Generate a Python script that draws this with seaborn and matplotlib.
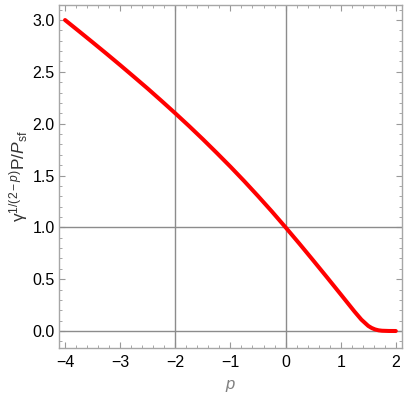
import matplotlib
matplotlib.use("Agg")
import matplotlib.pyplot as plt
import seaborn as sns
import pandas as pd
from matplotlib.ticker import MultipleLocator, FormatStrFormatter, FuncFormatter

# Data
p_values = [-4.0, -3.75, -3.5, -3.25, -3.0, -2.75, -2.5, -2.25, -2.0, -1.75,
            -1.5, -1.25, -1.0, -0.75, -0.5, -0.25, 0.0, 0.25, 0.5, 0.75,
            1.0, 1.125, 1.25, 1.375, 1.5, 1.5625, 1.625, 1.6875, 1.75, 1.875, 2.0]
ratio_values = [3.000, 2.893, 2.785, 2.676, 2.565, 2.452, 2.338, 2.220, 2.100, 1.977,
                1.850, 1.719, 1.585, 1.446, 1.302, 1.154, 1.000, 0.843, 0.682, 0.519,
                0.354, 0.271, 0.188, 0.110, 0.049, 0.029, 0.015, 0.0065, 0.0025, 0.0003, 0.0]
grid_x = [-2, 0]
grid_y = [0, 1]

df = pd.DataFrame({"p": p_values, "r": ratio_values})

sns.set_style("ticks")
plt.rcParams["font.family"] = ["Liberation Sans", "DejaVu Sans"]
plt.rcParams["mathtext.fontset"] = "custom"
plt.rcParams["mathtext.rm"] = "Liberation Sans"
plt.rcParams["mathtext.it"] = "Liberation Sans:italic"
plt.rcParams["mathtext.bf"] = "Liberation Sans:bold"

fig = plt.figure(figsize=(4.08, 4.00), dpi=100)
ax = fig.add_axes([0.1446, 0.13, 0.8404, 0.8575])

for gx in grid_x:
    ax.axvline(gx, color="#8c8c8c", lw=1.0, zorder=1)
for gy in grid_y:
    ax.axhline(gy, color="#8c8c8c", lw=1.0, zorder=1)

sns.lineplot(data=df, x="p", y="r", ax=ax, color="#ff0000", lw=2.9, zorder=3)

ax.set_xlim(-4.11, 2.11)
ax.set_ylim(-0.164, 3.145)

ax.xaxis.set_major_locator(MultipleLocator(1))
ax.xaxis.set_minor_locator(MultipleLocator(0.2))
ax.yaxis.set_major_locator(MultipleLocator(0.5))
ax.yaxis.set_minor_locator(MultipleLocator(0.1))
ax.yaxis.set_major_formatter(FormatStrFormatter("%.1f"))
ax.xaxis.set_major_formatter(FuncFormatter(
    lambda v, pos: ("\u2212%d" % abs(round(v))) if v < -1e-9 else "%d" % round(v)))

ax.tick_params(which="both", direction="in", top=True, right=True,
               color="#999999", labelsize=11.5, labelcolor="black")
ax.tick_params(which="major", length=4, width=0.8)
ax.tick_params(which="minor", length=2.2, width=0.6)
ax.tick_params(axis="x", which="major", pad=5)
ax.tick_params(axis="y", which="major", pad=3)

for s in ax.spines.values():
    s.set_color("#a6a6a6")
    s.set_linewidth(1.0)

ax.set_xlabel(r"$p$", fontsize=12, color="#808080", labelpad=6)
ax.set_ylabel(r"$\mathrm{\gamma}^{1/(2-p)}\mathrm{P}/P_{\mathrm{sf}}$",
              fontsize=12.5, color="#333333", labelpad=2)

fig.savefig("out.png", dpi=100)
